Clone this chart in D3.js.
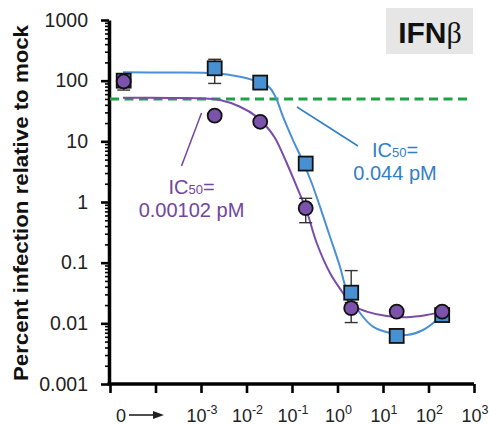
<!DOCTYPE html>
<html>
<head>
<meta charset="utf-8">
<script src="https://cdn.jsdelivr.net/npm/d3@7"></script>
<style>
  body { margin: 0; background: #fff; }
  svg { font-family: "Liberation Sans", Arial, sans-serif; }
</style>
</head>
<body>
<div class="ifn-graph"></div>
<script>
// doses in pM; the "0" dose is drawn at 2e-5 on the log axis
var doses = [2e-5, 0.002, 0.02, 0.2, 2, 20, 200];

// measured points (percent infection relative to mock)
var blueValues   = [100, 160, 93, 4.3, 0.032, 0.0062, 0.0137];
var purpleValues = [97, 26.5, 21, 0.79, 0.0178, 0.0156, 0.0156];

// error bars [low, high], null = none
var blueErr   = [null, [90, 225], null, null, [0.028, 0.074], null, null];
var purpleErr = [[70, 120], null, null, [0.456, 1.15], [0.0103, 0.022], null, null];

// fitted curves [dose, value]
var blueFit = [[1.93e-5, 137], [2.08e-4, 136], [2.03e-3, 132], [7.2e-3, 116], [0.0139, 102.5],
  [0.0219, 91.5], [0.0328, 75.7], [0.0445, 51.8], [0.0634, 25.5], [0.105, 10.5], [0.175, 4.6],
  [0.275, 2.0], [0.412, 0.837], [0.684, 0.268], [1.135, 0.0857], [1.59, 0.0354], [3.13, 0.0148],
  [6.03, 0.0088], [14.3, 0.00693], [33.2, 0.00643], [75.7, 0.00776], [151, 0.01135], [208, 0.0148]];
var purpleFit = [[1.93e-5, 52.4], [2.08e-4, 51.8], [9.51e-4, 51.2], [2.62e-3, 48], [7.2e-3, 37.2],
  [0.0168, 25.5], [0.0278, 17.4], [0.0423, 11.35], [0.0766, 4.39], [0.127, 1.79], [0.21, 0.711],
  [0.349, 0.211], [0.684, 0.0676], [1.32, 0.0316], [2.05, 0.02], [4.38, 0.0156], [12.05, 0.0132],
  [33.2, 0.0126], [91.2, 0.0137], [211, 0.0156]];

var threshold = 50;

// axis ticks
var xTicks = [1e-5, 1e-4, 1e-3, 1e-2, 1e-1, 1, 10, 100, 1000];
var xTickExps = [null, null, "-3", "-2", "-1", "0", "1", "2", "3"];
var yTicks = [0.001, 0.01, 0.1, 1, 10, 100, 1000];
var yTickLabels = ["0.001", "0.01", "0.1", "1", "10", "100", "1000"];

var width = 489, height = 425;
var blue = "#4a90d6", purple = "#7a4ca8";

var svg = d3.select(".ifn-graph").append("svg")
    .attr("width", width)
    .attr("height", height);

var x = d3.scaleLog().domain([1e-5, 1e3]).range([110, 474]);
var y = d3.scaleLog().domain([1e-3, 1e3]).range([384, 20]);

// minor y ticks
var minor = [];
yTicks.slice(0, -1).forEach(function(t) {
  for (var k = 2; k < 10; k++) minor.push(t * k);
});

svg.append("g")
    .attr("transform", "translate(109,0)")
    .call(d3.axisLeft(y).tickValues(minor).tickSize(4).tickSizeOuter(0).tickFormat(""))
    .call(function(g) { g.select(".domain").remove(); })
    .selectAll("line").attr("stroke-width", 1.6);

var yAxis = svg.append("g")
    .attr("transform", "translate(109,0)")
    .call(d3.axisLeft(y).tickValues(yTicks).tickSize(8).tickSizeOuter(0)
      .tickFormat(function(d, i) { return yTickLabels[i]; }));
yAxis.select(".domain").attr("stroke-width", 3.5);
yAxis.selectAll(".tick line").attr("stroke-width", 2.6);
yAxis.selectAll(".tick text")
    .attr("x", -21)
    .attr("font-size", 19.5)
    .attr("fill", "#222")
    .attr("font-family", "Liberation Sans, Arial, sans-serif");

var xAxis = svg.append("g")
    .attr("transform", "translate(0,384)")
    .call(d3.axisBottom(x).tickValues(xTicks).tickSize(9).tickSizeOuter(0).tickFormat(""));
xAxis.select(".domain").attr("stroke-width", 3.5).attr("d", "M107.5,0H474");
xAxis.selectAll(".tick line").attr("stroke-width", 2.6);

// x tick labels: 10 with superscript
xTicks.forEach(function(t, i) {
  if (xTickExps[i] === null) return;
  var txt = svg.append("text")
      .attr("x", x(t) + 1)
      .attr("y", 422)
      .attr("text-anchor", "middle")
      .attr("fill", "#222")
      .attr("font-size", 18);
  txt.append("tspan").text("10");
  txt.append("tspan").attr("dy", -8).attr("font-size", 12.5).text(xTickExps[i]);
});

// "0" label and arrow
svg.append("text")
    .attr("x", 121)
    .attr("y", 422)
    .attr("text-anchor", "middle")
    .attr("fill", "#222")
    .attr("font-size", 18)
    .text("0");
svg.append("line")
    .attr("x1", 129).attr("x2", 155)
    .attr("y1", 415).attr("y2", 415)
    .attr("stroke", "#222").attr("stroke-width", 1.6);
svg.append("path")
    .attr("d", "M153,411L164,415L153,419Z")
    .attr("fill", "#222");

// y axis title
svg.append("text")
    .attr("transform", "translate(28,203) rotate(-90)")
    .attr("text-anchor", "middle")
    .attr("font-weight", "bold")
    .attr("font-size", 21)
    .attr("textLength", 356)
    .attr("lengthAdjust", "spacingAndGlyphs")
    .attr("fill", "#111")
    .text("Percent infection relative to mock");

// 50% threshold
svg.append("line")
    .attr("x1", x(1e-5)).attr("x2", 471)
    .attr("y1", y(threshold)).attr("y2", y(threshold))
    .attr("stroke", "#1fa246")
    .attr("stroke-width", 3)
    .attr("stroke-dasharray", "9,5.5");

// fitted curves
var line = d3.line()
    .x(function(d) { return x(d[0]); })
    .y(function(d) { return y(d[1]); })
    .curve(d3.curveCatmullRom.alpha(0.5));

svg.append("path").datum(purpleFit)
    .attr("d", line).attr("fill", "none")
    .attr("stroke", purple).attr("stroke-width", 2);
svg.append("path").datum(blueFit)
    .attr("d", line).attr("fill", "none")
    .attr("stroke", blue).attr("stroke-width", 2);

// error bars
function errorBars(err) {
  err.forEach(function(e, i) {
    if (!e) return;
    var cx = x(doses[i]);
    var g = svg.append("g").attr("stroke", "#333").attr("stroke-width", 1.4);
    g.append("line").attr("x1", cx).attr("x2", cx).attr("y1", y(e[0])).attr("y2", y(e[1]));
    g.append("line").attr("x1", cx - 6.5).attr("x2", cx + 6.5).attr("y1", y(e[0])).attr("y2", y(e[0]));
    g.append("line").attr("x1", cx - 6.5).attr("x2", cx + 6.5).attr("y1", y(e[1])).attr("y2", y(e[1]));
  });
}
errorBars(blueErr);
errorBars(purpleErr);

// blue squares
svg.selectAll(".sq")
    .data(blueValues)
    .enter().append("rect")
    .attr("class", "sq")
    .attr("x", function(d, i) { return x(doses[i]) - 7; })
    .attr("y", function(d) { return y(d) - 7; })
    .attr("width", 14)
    .attr("height", 14)
    .attr("fill", "#4791d3")
    .attr("stroke", "#111")
    .attr("stroke-width", 1.8);

// purple circles
svg.selectAll(".dot")
    .data(purpleValues)
    .enter().append("circle")
    .attr("class", "dot")
    .attr("cx", function(d, i) { return x(doses[i]); })
    .attr("cy", function(d) { return y(d); })
    .attr("r", 7)
    .attr("fill", "#7b53ad")
    .attr("stroke", "#111")
    .attr("stroke-width", 1.8);

// IC50 annotations
svg.append("line")
    .attr("x1", 297).attr("y1", 107).attr("x2", 358).attr("y2", 146)
    .attr("stroke", "#2f80c8").attr("stroke-width", 1.5);
var bt = svg.append("text").attr("x", 395).attr("y", 157)
    .attr("text-anchor", "middle").attr("fill", "#2f80c8").attr("font-size", 20);
bt.append("tspan").text("IC");
bt.append("tspan").attr("font-size", 13).text("50");
bt.append("tspan").text("=");
svg.append("text").attr("x", 395).attr("y", 180)
    .attr("text-anchor", "middle").attr("fill", "#2f80c8").attr("font-size", 20)
    .text("0.044 pM");

svg.append("line")
    .attr("x1", 201.5).attr("y1", 113).attr("x2", 181.5).attr("y2", 166)
    .attr("stroke", "#7345a0").attr("stroke-width", 1.5);
var pt = svg.append("text").attr("x", 191.5).attr("y", 193.5)
    .attr("text-anchor", "middle").attr("fill", "#7345a0").attr("font-size", 20);
pt.append("tspan").text("IC");
pt.append("tspan").attr("font-size", 13).text("50");
pt.append("tspan").text("=");
svg.append("text").attr("x", 191.5).attr("y", 217)
    .attr("text-anchor", "middle").attr("fill", "#7345a0").attr("font-size", 20)
    .text("0.00102 pM");

// IFNβ label box
svg.append("rect")
    .attr("x", 386).attr("y", 8).attr("width", 87).attr("height", 46)
    .attr("fill", "#e6e6e6");
var lab = svg.append("text").attr("x", 430).attr("y", 43)
    .attr("text-anchor", "middle").attr("font-size", 30).attr("fill", "#111");
lab.append("tspan").attr("font-weight", "bold").text("IFN");
lab.append("tspan").attr("font-family", "Liberation Serif, serif").text("β");
</script>
</body>
</html>
